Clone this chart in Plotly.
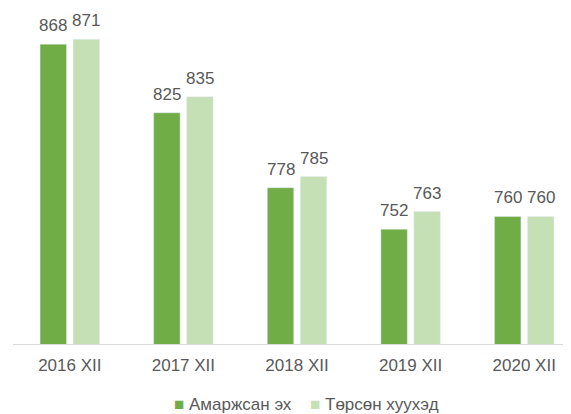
import plotly.graph_objects as go

categories = ["2016 XII", "2017 XII", "2018 XII", "2019 XII", "2020 XII"]
series1_name = "Амаржсан эх"
series1 = [868, 825, 778, 752, 760]
series2_name = "Төрсөн хуухэд"
series2 = [871, 835, 785, 763, 760]

font_family = "Liberation Sans, Arial, sans-serif"
grey = "#595959"
c1 = "#70AD47"
c2 = "#C5E0B4"

fig = go.Figure()
fig.add_trace(go.Bar(x=categories, y=series1, name=series1_name, marker_color=c1,
                     showlegend=False))
fig.add_trace(go.Bar(x=categories, y=series2, name=series2_name, marker_color=c2,
                     showlegend=False))

# value labels above bars
for vals, shift in ((series1, -16.5), (series2, 16.5)):
    for cat, v in zip(categories, vals):
        fig.add_annotation(x=cat, y=v, text=str(v), showarrow=False,
                           xshift=shift, yshift=7, yanchor="bottom",
                           font=dict(size=17, color=grey, family=font_family))

# legend drawn as text entries (square swatch placed tight against the label)
for name, color, xpos in ((series1_name, c1, 0.285), (series2_name, c2, 0.529)):
    fig.add_annotation(xref="paper", yref="paper", x=xpos, y=-0.182,
                       xanchor="left", yanchor="middle", showarrow=False,
                       text=f"<span style='color:{color}'>■</span> {name}",
                       font=dict(size=17, color=grey, family=font_family))

# page body adds an 8px offset, so the figure is sized to fit inside the window
fig.update_layout(
    width=563, height=406,
    margin=dict(l=5, r=0, t=2, b=70, autoexpand=False),
    barmode="group", bargap=0.419, bargroupgap=0.197,
    plot_bgcolor="white", paper_bgcolor="white",
    font=dict(family=font_family, color=grey, size=15),
    showlegend=False,
)
fig.update_xaxes(range=[-0.5, 4.412], showline=True, linecolor="#D9D9D9", linewidth=1,
                 ticks="outside", ticklen=6, tickcolor="rgba(0,0,0,0)",
                 tickfont=dict(size=17, color=grey))
fig.update_yaxes(range=[680, 889.4], visible=False, showgrid=False)

fig.write_html("out.html")
